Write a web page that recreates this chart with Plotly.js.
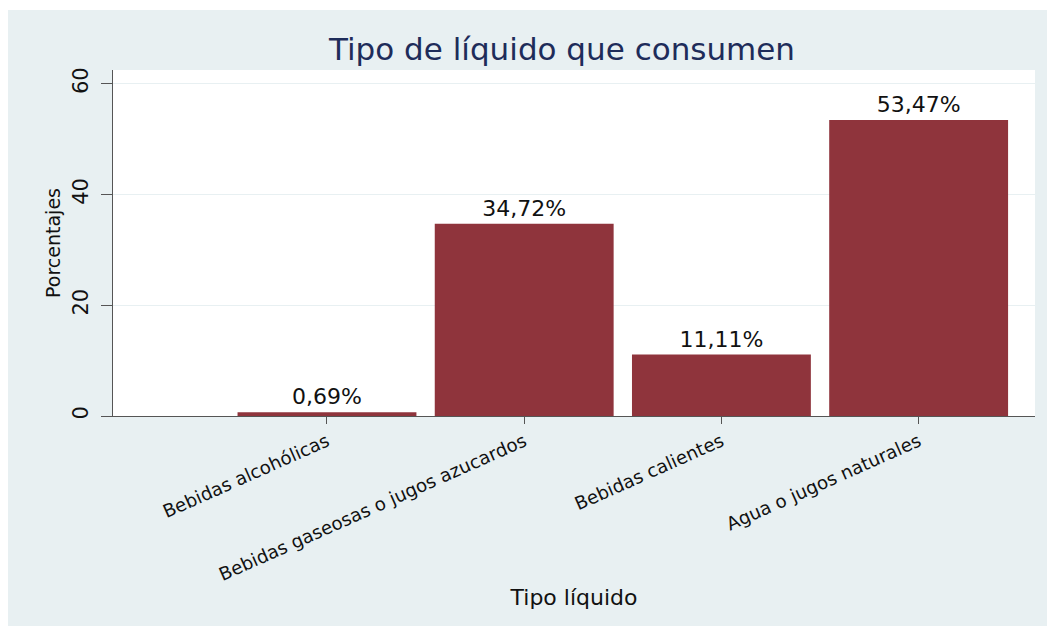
<!DOCTYPE html>
<html>
<head>
<meta charset="utf-8">
<script src="https://cdn.plot.ly/plotly-3.0.1.min.js"></script>
<style>
  html, body { margin: 0; padding: 0; background: #ffffff; width: 1047px; height: 626px; overflow: hidden; }
  #chart { position: absolute; left: 8px; top: 10px; width: 1039px; height: 616px; }
</style>
</head>
<body>
<div id="chart"></div>
<script>
const categories = ["Bebidas alcohólicas", "Bebidas gaseosas o jugos azucardos", "Bebidas calientes", "Agua o jugos naturales"];
const percentages = [0.69, 34.72, 11.11, 53.47];
const yTickValues = [0, 20, 40, 60];
const titleText = "Tipo de líquido que consumen";
const xTitleText = "Tipo líquido";
const yTitleText = "Porcentajes";

const labels = percentages.map(v => v.toFixed(2).replace('.', ',') + '%');
const FONT = "DejaVu Sans, Liberation Sans, Arial, sans-serif";

const trace = {
  type: 'bar',
  x: categories,
  y: percentages,
  text: labels,
  textposition: 'outside',
  textfont: { family: FONT, size: 22, color: '#111111' },
  cliponaxis: false,
  marker: { color: '#8F343C', line: { width: 0 } },
  hoverinfo: 'skip'
};

const layout = {
  width: 1039,
  height: 616,
  paper_bgcolor: '#E8F0F2',
  plot_bgcolor: '#FFFFFF',
  margin: { l: 105, r: 12, t: 60, b: 210, pad: 0 },
  bargap: 0.093,
  showlegend: false,
  font: { family: FONT, color: '#111111' },
  title: {
    text: titleText,
    font: { family: FONT, size: 31, color: '#1E2C5A' },
    x: 0.487, xref: 'paper', xanchor: 'center',
    y: 0.937, yref: 'container', yanchor: 'middle'
  },
  xaxis: {
    type: 'category',
    range: [-1.085, 3.59],
    showgrid: false,
    zeroline: false,
    showline: true,
    linecolor: '#555555',
    linewidth: 1,
    ticks: 'outside',
    ticklen: 7,
    tickcolor: '#555555',
    tickangle: -24,
    tickfont: { family: FONT, size: 18.3, color: '#111111' },
    title: { text: xTitleText, font: { family: FONT, size: 22, color: '#111111' }, standoff: 1 },
    fixedrange: true
  },
  yaxis: {
    range: [0, 62.5],
    tickvals: yTickValues,
    ticktext: yTickValues.map(String),
    showgrid: true,
    gridcolor: '#E8F0F2',
    gridwidth: 1,
    zeroline: false,
    showline: true,
    linecolor: '#555555',
    linewidth: 1,
    ticks: 'outside',
    ticklen: 11,
    tickcolor: '#555555',
    tickangle: -90,
    ticklabelstandoff: 5,
    tickfont: { family: FONT, size: 21, color: '#111111' },
    title: { text: yTitleText, font: { family: FONT, size: 19, color: '#111111' }, standoff: 2 },
    fixedrange: true
  }
};

Plotly.newPlot('chart', [trace], layout, { displayModeBar: false, staticPlot: true });
</script>
</body>
</html>
